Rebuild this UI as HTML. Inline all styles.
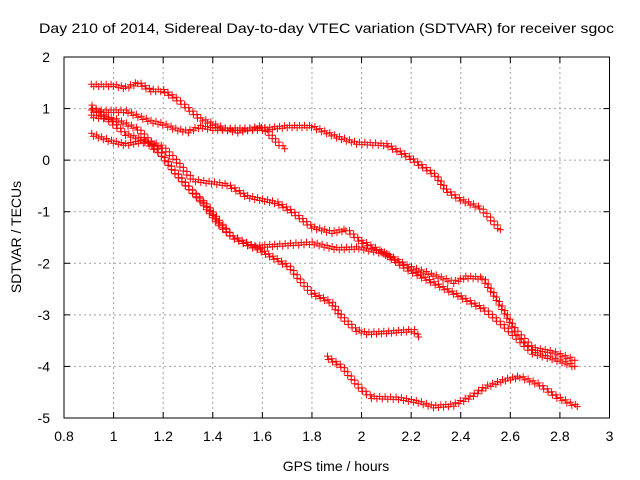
<!DOCTYPE html>
<html><head><meta charset="utf-8"><style>
body{margin:0;background:#fff;}
svg{display:block;font-family:"Liberation Sans",sans-serif;}
</style></head><body>
<svg id="chart" width="640" height="480" viewBox="0 0 640 480">
<rect width="640" height="480" fill="#fff"/>
<text x="39" y="33" font-size="14" textLength="575" lengthAdjust="spacingAndGlyphs">Day 210 of 2014, Sidereal Day-to-day VTEC variation (SDTVAR) for receiver sgoc</text>
<g id="grid"></g>
<g id="marks"></g>
<rect x="64" y="57" width="545.5" height="361" fill="none" stroke="#000" stroke-width="1"/>
<g id="ticks"></g>
<text x="336" y="471" font-size="14" text-anchor="middle">GPS time / hours</text>
<text transform="translate(21,237) rotate(-90)" font-size="14" text-anchor="middle">SDTVAR / TECUs</text>
</svg>
<script>
const xTicks=[0.8,1,1.2,1.4,1.6,1.8,2,2.2,2.4,2.6,2.8,3];
const xTickLabels=["0.8","1","1.2","1.4","1.6","1.8","2","2.2","2.4","2.6","2.8","3"];
const yTicks=[-5,-4,-3,-2,-1,0,1,2];
const yTickLabels=["-5","-4","-3","-2","-1","0","1","2"];
const t1x=[0.91,1.0,1.05,1.1,1.15,1.2,1.25,1.3,1.35,1.4,1.45,1.5,1.55,1.6,1.63,1.67,1.69];
const t1y=[1.45,1.45,1.4,1.5,1.35,1.35,1.2,1.0,0.8,0.7,0.6,0.55,0.6,0.65,0.5,0.3,0.22];
const t2x=[0.91,1.0,1.05,1.1,1.15,1.2,1.25,1.3,1.35,1.4,1.5,1.6,1.7,1.8,1.9,1.98,2.1,2.19,2.3,2.34,2.4,2.48,2.56];
const t2y=[0.95,0.95,0.95,0.85,0.75,0.7,0.6,0.55,0.65,0.6,0.6,0.6,0.65,0.65,0.45,0.33,0.3,0.06,-0.3,-0.58,-0.77,-0.93,-1.35];
const t3x=[0.91,1.0,1.05,1.1,1.15,1.2,1.25,1.32,1.46,1.54,1.66,1.72,1.8,1.88,1.94,1.99,2.09,2.19,2.29,2.37,2.42,2.49,2.53,2.58,2.62,2.69,2.77,2.86];
const t3y=[0.5,0.35,0.3,0.35,0.35,0.25,0.0,-0.39,-0.48,-0.71,-0.83,-1.0,-1.3,-1.4,-1.35,-1.55,-1.8,-2.07,-2.23,-2.37,-2.27,-2.29,-2.58,-2.97,-3.3,-3.65,-3.72,-3.88];
const t4x=[0.91,1.0,1.1,1.19,1.23,1.3,1.36,1.42,1.48,1.56,1.66,1.8,1.9,1.99,2.09,2.19,2.29,2.4,2.5,2.58,2.69,2.79,2.86];
const t4y=[0.85,0.8,0.6,0.13,-0.13,-0.52,-0.83,-1.22,-1.49,-1.68,-1.65,-1.61,-1.72,-1.7,-1.8,-2.13,-2.38,-2.65,-2.91,-3.24,-3.74,-3.88,-4.0];
const t5x=[0.91,1.0,1.05,1.12,1.19,1.23,1.3,1.38,1.43,1.48,1.59,1.64,1.71,1.75,1.8,1.88,1.92,1.98,2.02,2.1,2.21,2.23];
const t5y=[1.05,0.7,0.5,0.39,0.13,-0.13,-0.52,-0.9,-1.22,-1.49,-1.74,-1.88,-2.07,-2.32,-2.58,-2.77,-3.04,-3.3,-3.36,-3.34,-3.3,-3.43];
const t6x=[1.86,1.92,1.99,2.04,2.15,2.23,2.29,2.37,2.44,2.5,2.58,2.64,2.72,2.79,2.87];
const t6y=[-3.82,-4.0,-4.4,-4.6,-4.62,-4.69,-4.78,-4.75,-4.59,-4.4,-4.26,-4.2,-4.36,-4.6,-4.78];
const seriesX=[t1x,t2x,t3x,t4x,t5x,t6x];
const seriesY=[t1y,t2y,t3y,t4y,t5y,t6y];

const NS="http://www.w3.org/2000/svg";
const L=64,R=609.5,T=57,B=418,X0=0.8,X1=3,Y0=-5,Y1=2;
function sx(v){return L+(v-X0)/(X1-X0)*(R-L);}
function sy(v){return B-(v-Y0)/(Y1-Y0)*(B-T);}
function mk(tag,attrs,parent){const e=document.createElementNS(NS,tag);for(const k in attrs)e.setAttribute(k,attrs[k]);parent.appendChild(e);return e;}
const grid=document.getElementById('grid'),ticks=document.getElementById('ticks'),marks=document.getElementById('marks');
xTicks.forEach((v,i)=>{
  const x=sx(v);
  if(i>0&&i<xTicks.length-1){const g=mk('line',{x1:x,x2:x,y1:T,y2:B,stroke:'#a0a0a0','stroke-dasharray':'2,3'},grid);
  
  }
  const a=mk('line',{x1:x,x2:x,y1:B,y2:B-6,stroke:'#000'},ticks);
  
  
  const b=mk('line',{x1:x,x2:x,y1:T,y2:T+6,stroke:'#000'},ticks);
  
  
  const t=mk('text',{x:x,y:B+23,'font-size':14,'text-anchor':'middle'},ticks);
  t.textContent=xTickLabels[i];
  
  
});
yTicks.forEach((v,i)=>{
  const y=sy(v);
  if(i>0&&i<yTicks.length-1){const g=mk('line',{x1:L,x2:R,y1:y,y2:y,stroke:'#a0a0a0','stroke-dasharray':'2,3'},grid);
  
  }
  const a=mk('line',{x1:L,x2:L+6,y1:y,y2:y,stroke:'#000'},ticks);
  
  
  const b=mk('line',{x1:R,x2:R-6,y1:y,y2:y,stroke:'#000'},ticks);
  
  
  const t=mk('text',{x:L-14,y:y+5,'font-size':14,'text-anchor':'end'},ticks);
  t.textContent=yTickLabels[i];
  
  
});
seriesX.forEach((xs,si)=>{
  const ys=seriesY[si];
  const g=mk('g',{},marks);
  
  
  let d='';let c=0;
  for(let i=0;i<xs.length-1;i++){
    const ax=sx(xs[i]),ay=sy(ys[i]),bx=sx(xs[i+1]),by=sy(ys[i+1]);
    const len=Math.hypot(bx-ax,by-ay),n=Math.max(1,Math.round(len/2.6));
    const nx=-(by-ay)/(len||1),ny=(bx-ax)/(len||1);
    for(let k=0;k<n;k++){
      const off=(c++%2?1.2:-1.2);
      const x=ax+(bx-ax)*k/n+nx*off,y=ay+(by-ay)*k/n+ny*off;
      d+='M'+(x-3.5).toFixed(1)+' '+y.toFixed(1)+'h7M'+x.toFixed(1)+' '+(y-3.5).toFixed(1)+'v7';
    }
  }
  const lx=sx(xs[xs.length-1]),ly=sy(ys[ys.length-1]);
  d+='M'+(lx-3.5)+' '+ly+'h7M'+lx+' '+(ly-3.5)+'v7';
  const p=mk('path',{d:d,stroke:'#ff0000','stroke-width':1,fill:'none'},g);
  
  
});
</script>
</body></html>
